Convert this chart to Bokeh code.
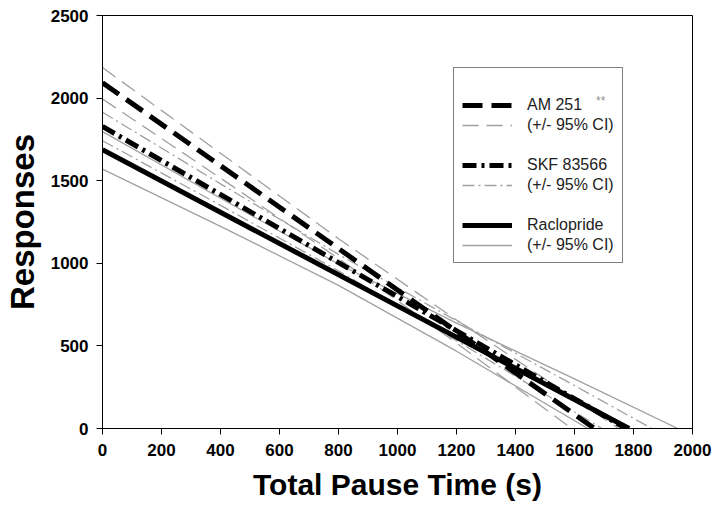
from bokeh.plotting import figure
from bokeh.models import Range1d, FixedTicker, Legend, LegendItem, Label
from bokeh.embed import file_html
from bokeh.resources import INLINE

# ---- data ----
x_ticks = [0, 200, 400, 600, 800, 1000, 1200, 1400, 1600, 1800, 2000]
y_ticks = [0, 500, 1000, 1500, 2000, 2500]

am_fit_x = [0, 1668]
am_fit_y = [2093, 0]
am_hi_x = [0, 400, 800, 1200, 1600, 1750]
am_hi_y = [2185, 1666, 1149, 657, 180, 0]
am_lo_x = [0, 400, 800, 1200, 1590]
am_lo_y = [1995, 1516, 1029, 517, 0]

skf_fit_x = [0, 1775]
skf_fit_y = [1828, 0]
skf_hi_x = [0, 400, 800, 1200, 1600, 1862]
skf_hi_y = [1914, 1481, 1054, 652, 260, 0]
skf_lo_x = [0, 400, 800, 1200, 1600, 1693]
skf_lo_y = [1742, 1351, 954, 532, 100, 0]

rac_fit_x = [0, 1785]
rac_fit_y = [1687, 0]
rac_hi_x = [0, 400, 800, 1200, 1600, 1950]
rac_hi_y = [1797, 1394, 996, 638, 300, 0]
rac_lo_x = [0, 400, 800, 1200, 1645]
rac_lo_y = [1570, 1224, 866, 468, 0]

labels = ["AM 251", "SKF 83566", "Raclopride"]
ci_label = "(+/- 95% CI)"
significance = "**"

FONT = "Liberation Sans"
GRAY = "#a0a0a0"

p = figure(width=713, height=508, output_backend="svg", toolbar_location=None,
           x_range=Range1d(0, 2000), y_range=Range1d(0, 2500),
           min_border_left=101, min_border_right=21, min_border_top=15, min_border_bottom=80)
p.background_fill_color = "white"
p.border_fill_color = "white"
p.outline_line_color = "black"
p.outline_line_width = 1
p.xgrid.visible = False
p.ygrid.visible = False

for ax in (p.xaxis[0], p.yaxis[0]):
    ax.axis_line_color = "black"
    ax.major_tick_line_color = "black"
    ax.major_tick_in = 0
    ax.major_tick_out = 6
    ax.minor_tick_line_color = None
    ax.major_label_text_font = FONT
    ax.major_label_text_font_style = "bold"
    ax.major_label_text_font_size = "17px"
    ax.major_label_text_color = "black"
    ax.axis_label_text_font = FONT
    ax.axis_label_text_font_style = "bold"
    ax.axis_label_text_color = "black"

p.xaxis.axis_label_text_font_size = "30px"
p.yaxis.axis_label_text_font_size = "33px"
p.xaxis.ticker = FixedTicker(ticks=x_ticks)
p.yaxis.ticker = FixedTicker(ticks=y_ticks)
p.xaxis.axis_label = "Total Pause Time (s)"
p.yaxis.axis_label = "Responses"
p.xaxis.major_label_standoff = 9
p.xaxis.axis_label_standoff = 9
p.yaxis.major_label_standoff = 8
p.yaxis.axis_label_standoff = 7

# CI lines (gray)
am_hi = p.line(am_hi_x, am_hi_y, line_color=GRAY, line_width=1.3, line_dash="16 8")
p.line(am_lo_x, am_lo_y, line_color=GRAY, line_width=1.3, line_dash="16 8")
skf_hi = p.line(skf_hi_x, skf_hi_y, line_color=GRAY, line_width=1.3, line_dash="12 4 2 4")
p.line(skf_lo_x, skf_lo_y, line_color=GRAY, line_width=1.3, line_dash="12 4 2 4")
rac_hi = p.line(rac_hi_x, rac_hi_y, line_color=GRAY, line_width=1.3)
p.line(rac_lo_x, rac_lo_y, line_color=GRAY, line_width=1.3)

# fitted lines (thick black)
am = p.line(am_fit_x, am_fit_y, line_color="black", line_width=5, line_dash="20 9")
skf = p.line(skf_fit_x, skf_fit_y, line_color="black", line_width=5, line_dash="14 5 3 5")
rac = p.line(rac_fit_x, rac_fit_y, line_color="black", line_width=5)

items = [
    LegendItem(label=" ", renderers=[]),
    LegendItem(label=labels[0], renderers=[am]),
    LegendItem(label=ci_label, renderers=[am_hi]),
    LegendItem(label=" ", renderers=[]),
    LegendItem(label=labels[1], renderers=[skf]),
    LegendItem(label=ci_label, renderers=[skf_hi]),
    LegendItem(label=" ", renderers=[]),
    LegendItem(label=labels[2], renderers=[rac]),
    LegendItem(label=ci_label, renderers=[rac_hi]),
]
legend = Legend(items=items, location=(351, 165), orientation="vertical",
                border_line_color="black", border_line_width=1,
                background_fill_color="white", background_fill_alpha=0,
                padding=8, margin=0, spacing=2,
                glyph_width=50, glyph_height=18, label_height=18, label_standoff=15,
                label_text_font=FONT, label_text_font_size="16px", label_text_color="#222222")
p.add_layout(legend, "center")

stars = Label(x=1673, y=1985, text=significance, level="overlay",
              text_font=FONT, text_font_size="12px", text_color="#909090",
              text_baseline="middle")
p.add_layout(stars)

open("out.html", "w").write(file_html(p, INLINE))
